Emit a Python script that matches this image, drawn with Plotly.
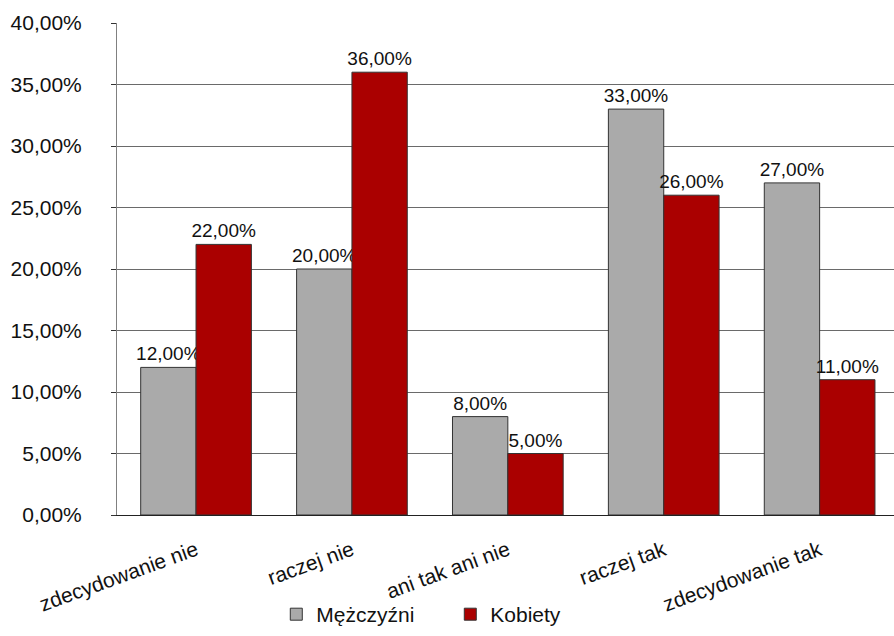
import plotly.graph_objects as go

# Survey answers and shares (%) by gender
categories = ["zdecydowanie nie", "raczej nie", "ani tak ani nie", "raczej tak", "zdecydowanie tak"]
men = [12, 20, 8, 33, 27]
women = [22, 36, 5, 26, 11]
y_ticks = [0, 5, 10, 15, 20, 25, 30, 35, 40]
y_tick_text = [f"{v:.2f}%".replace(".", ",") for v in y_ticks]

FONT = "Liberation Sans, Arial, sans-serif"

fig = go.Figure()
for name, vals, color in (("Mężczyźni", men, "#aaaaaa"), ("Kobiety", women, "#aa0000")):
    fig.add_trace(go.Bar(
        x=categories, y=vals, name=name,
        marker=dict(color=color, line=dict(color="#333333", width=1)),
        texttemplate="%{y:.2f}%", textposition="outside", cliponaxis=False,
        constraintext="none",
        textfont=dict(family=FONT, size=19, color="#111111"),
    ))

fig.update_layout(
    width=894, height=636,
    margin=dict(l=117, r=0, t=23, b=121),
    paper_bgcolor="white", plot_bgcolor="white",
    separators=",.",
    barmode="group", bargap=0.29, bargroupgap=0,
    font=dict(family=FONT, size=21, color="#111111"),
    showlegend=True,
    legend=dict(
        orientation="h", x=0.205, xanchor="left", y=-0.244, yanchor="bottom",
        font=dict(family=FONT, size=21, color="#111111"),
        itemwidth=30, traceorder="normal", borderwidth=0,
        bgcolor="rgba(0,0,0,0)",
        entrywidth=129, entrywidthmode="pixels",
    ),
    xaxis=dict(
        type="category", range=[-0.507, 4.477], automargin=False,
        tickangle=-20, ticklabelstandoff=14,
        tickfont=dict(family=FONT, size=21, color="#111111"),
        showgrid=False, zeroline=False, showline=True,
        linecolor="#222222", linewidth=1, ticks="",
    ),
    yaxis=dict(
        range=[0, 40], tickmode="array", tickvals=y_ticks, ticktext=y_tick_text,
        automargin=False,
        showgrid=True, gridcolor="#6a6a6a", gridwidth=1,
        zeroline=False, showline=True, linecolor="#808080", linewidth=1,
        ticks="outside", ticklen=5, tickcolor="#333333",
        ticklabelstandoff=25,
        tickfont=dict(family=FONT, size=21, color="#111111"),
    ),
)

fig.write_html("out.html")
